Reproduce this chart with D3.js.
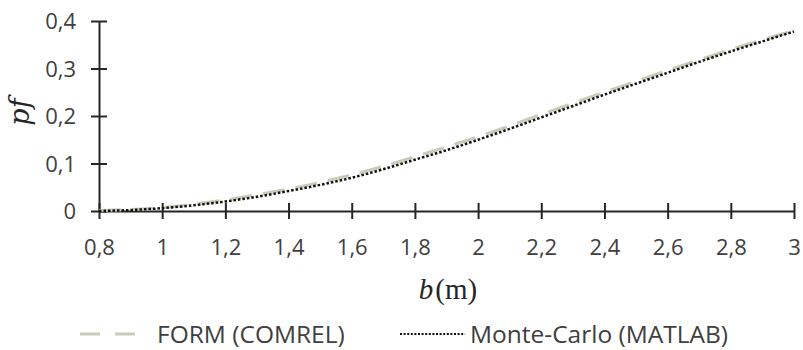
<!DOCTYPE html>
<html>
<head>
<meta charset="utf-8">
<script src="https://cdn.jsdelivr.net/npm/d3@7"></script>
<style>
  html, body { margin: 0; padding: 0; background: #fff; }
  svg { display: block; }
  .tick text { font-family: "Open Sans", sans-serif; fill: #404040; }
</style>
</head>
<body>
<svg id="chart" width="803" height="350"></svg>
<script>
// Width b (m) at which the failure probability was evaluated
const bValues = [0.8, 0.9, 1.0, 1.1, 1.2, 1.3, 1.4, 1.5, 1.6, 1.7, 1.8, 1.9,
                 2.0, 2.1, 2.2, 2.3, 2.4, 2.5, 2.6, 2.7, 2.8, 2.9, 3.0];
// Failure probability, FORM (COMREL)
const pfForm = [0.001, 0.003, 0.007, 0.014, 0.023, 0.034, 0.046, 0.060, 0.076, 0.094, 0.114, 0.135,
                0.156, 0.179, 0.203, 0.227, 0.250, 0.273, 0.296, 0.318, 0.340, 0.360, 0.380];
// Failure probability, Monte-Carlo (MATLAB)
const pfMonteCarlo = [0.000, 0.002, 0.006, 0.012, 0.020, 0.030, 0.042, 0.055, 0.070, 0.088, 0.108, 0.128,
                      0.150, 0.173, 0.197, 0.221, 0.245, 0.268, 0.291, 0.314, 0.336, 0.357, 0.378];

const xTicks = [0.8, 1.0, 1.2, 1.4, 1.6, 1.8, 2.0, 2.2, 2.4, 2.6, 2.8, 3.0];
const xTickLabels = ["0,8", "1", "1,2", "1,4", "1,6", "1,8", "2", "2,2", "2,4", "2,6", "2,8", "3"];
const yTicks = [0, 0.1, 0.2, 0.3, 0.4];
const yTickLabels = ["0", "0,1", "0,2", "0,3", "0,4"];

const seriesNames = ["FORM (COMREL)", "Monte-Carlo (MATLAB)"];

const svg = d3.select("#chart");
const plotLeft = 99, plotRight = 794, plotTop = 21, plotBottom = 211;

const x = d3.scaleLinear().domain([0.8, 3.0]).range([plotLeft, plotRight]);
const y = d3.scaleLinear().domain([0, 0.4]).range([plotBottom, plotTop]);

const axisColor = "#262626";

// Y axis: ticks cross the axis line
const yAxis = svg.append("g")
  .attr("transform", `translate(${plotLeft},0)`)
  .call(d3.axisLeft(y).tickValues(yTicks)
    .tickFormat((d, i) => yTickLabels[i])
    .tickSizeOuter(0).tickSizeInner(8).tickPadding(15));
yAxis.select(".domain").attr("stroke", axisColor).attr("stroke-width", 2);
yAxis.selectAll(".tick line").attr("x1", -8).attr("x2", 8)
  .attr("stroke", axisColor).attr("stroke-width", 2);
yAxis.selectAll(".tick text").attr("font-size", 22).attr("dy", "0.35em");

// X axis at pf = 0
const xAxis = svg.append("g")
  .attr("transform", `translate(0,${plotBottom})`)
  .call(d3.axisBottom(x).tickValues(xTicks)
    .tickFormat((d, i) => xTickLabels[i])
    .tickSizeOuter(0).tickSizeInner(8).tickPadding(20));
xAxis.select(".domain").attr("stroke", axisColor).attr("stroke-width", 2);
xAxis.selectAll(".tick line").attr("y1", -8).attr("y2", 8)
  .attr("stroke", axisColor).attr("stroke-width", 2);
xAxis.selectAll(".tick text").attr("font-size", 22);

const line = d3.line().x(d => x(d[0])).y(d => y(d[1])).curve(d3.curveMonotoneX);

const formColor = "#cbcbb9";
const mcColor = "#111";
const formDash = "22,11";
const mcDash = "2.5,2";

svg.append("path")
  .datum(bValues.map((b, i) => [b, pfForm[i]]))
  .attr("d", line)
  .attr("fill", "none")
  .attr("stroke", formColor)
  .attr("stroke-width", 3.2)
  .attr("stroke-dasharray", formDash);

svg.append("path")
  .datum(bValues.map((b, i) => [b, pfMonteCarlo[i]]))
  .attr("d", line)
  .attr("fill", "none")
  .attr("stroke", mcColor)
  .attr("stroke-width", 2.5)
  .attr("stroke-dasharray", mcDash);

// Axis titles
svg.append("text")
  .attr("transform", "translate(29,112) rotate(-90)")
  .attr("text-anchor", "middle")
  .attr("font-family", "'DejaVu Serif', serif")
  .attr("font-style", "italic")
  .attr("font-size", 27)
  .attr("fill", "#262626")
  .text("pf");

const xTitle = svg.append("text")
  .attr("x", 448).attr("y", 299)
  .attr("text-anchor", "middle")
  .attr("font-family", "'Liberation Serif', serif")
  .attr("font-size", 29)
  .attr("fill", "#262626");
xTitle.append("tspan").attr("font-style", "italic").text("b");
xTitle.append("tspan").attr("dx", 2).text("(m)");

// Legend
const legendY = 334;
const legend = svg.append("g");
const legendItems = [
  { x0: 80, x1: 138, tx: 157, color: formColor, dash: "20,15", width: 3.2, name: seriesNames[0] },
  { x0: 400, x1: 465, tx: 470, color: mcColor, dash: "2,1.6", width: 2, name: seriesNames[1] }
];
legendItems.forEach(it => {
  legend.append("line")
    .attr("x1", it.x0).attr("x2", it.x1)
    .attr("y1", legendY).attr("y2", legendY)
    .attr("stroke", it.color).attr("stroke-width", it.width)
    .attr("stroke-dasharray", it.dash);
  legend.append("text")
    .attr("x", it.tx).attr("y", legendY)
    .attr("dy", "0.35em")
    .attr("font-family", "'Open Sans', sans-serif")
    .attr("font-size", 24.5)
    .attr("fill", "#404040")
    .text(it.name);
});
</script>
</body>
</html>
